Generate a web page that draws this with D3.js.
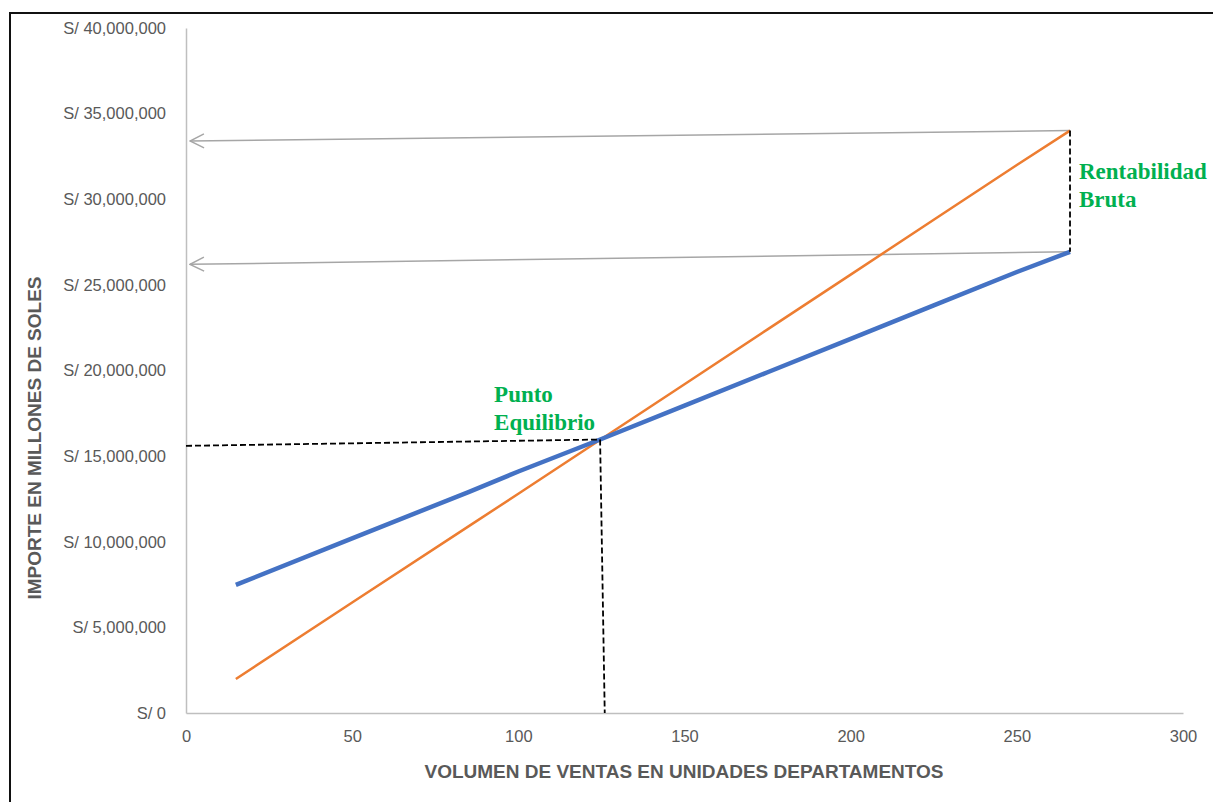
<!DOCTYPE html>
<html>
<head>
<meta charset="utf-8">
<script src="https://cdn.jsdelivr.net/npm/d3@7"></script>
<style>
  body { margin: 0; background: #fff; }
  .tick text { font-family: "Liberation Sans", Arial, sans-serif; fill: #595959; }
</style>
</head>
<body>
<div class="container"></div>
<script>
// chart data
var unidades   = [15, 50, 85, 100, 125, 150, 175, 200, 225, 250, 266];
var costoTotal = [7480000, 10200000, 12900000, 14100000, 16000000, 17950000, 19900000, 21850000, 23800000, 25750000, 26930000];
var ingresos   = [1990000, 6450000, 10900000, 12800000, 16000000, 19200000, 22400000, 25600000, 28800000, 32000000, 34010000];

var xTicks = [0, 50, 100, 150, 200, 250, 300];
var yTicks = [0, 5000000, 10000000, 15000000, 20000000, 25000000, 30000000, 35000000, 40000000];

// annotation anchors, in data units
var equilibrio = [124.6, 15970000];
var flechas = [ // [from x, from y, to x, to y]
  [266, 34010000, 0, 33400000],
  [266, 26930000, 0, 26200000]
];
var guias = [ // dashed black guides
  [0, 15600000, 124.6, 15970000],
  [124.6, 15970000, 126, 0],
  [266, 34010000, 266, 26930000]
];

var margin = {top: 28, right: 30, bottom: 89, left: 186},
    width = 1213 - margin.left - margin.right,
    height = 802 - margin.top - margin.bottom;

var x_scale = d3.scaleLinear().domain([0, 300]).range([0, 997]);
var y_scale = d3.scaleLinear().domain([0, 40000000]).range([height, 0]);

var svg = d3.select("div.container").append("svg")
    .attr("width", 1213)
    .attr("height", 802);

// frame
svg.append("rect")
    .attr("x", 10).attr("y", 13)
    .attr("width", 1240).attr("height", 820)
    .attr("fill", "none")
    .attr("stroke", "#111")
    .attr("stroke-width", 2);

var defs = svg.append("defs");
defs.append("marker")
    .attr("id", "chevron")
    .attr("viewBox", "0 0 16 16")
    .attr("refX", 15).attr("refY", 8)
    .attr("markerWidth", 16).attr("markerHeight", 16)
    .attr("markerUnits", "userSpaceOnUse")
    .attr("orient", "auto")
    .append("path")
    .attr("d", "M1,1 L15,8 L1,15")
    .attr("fill", "none")
    .attr("stroke", "#a6a6a6")
    .attr("stroke-width", 1.5);

var g = svg.append("g")
    .attr("transform", "translate(" + margin.left + "," + margin.top + ")");

var fmt = function (d) { return d === 0 ? "S/ 0" : "S/ " + d3.format(",")(d); };

// Y axis
var yAxis = g.append("g")
    .call(d3.axisLeft(y_scale).tickValues(yTicks).tickFormat(fmt).tickSize(0).tickPadding(20));
yAxis.select(".domain").attr("stroke", "#bfbfbf").attr("stroke-width", 1.5);
yAxis.selectAll("text").style("font-size", "16.5px");

// X axis
var xAxis = g.append("g")
    .attr("transform", "translate(0," + height + ")")
    .call(d3.axisBottom(x_scale).tickValues(xTicks).tickSize(0).tickPadding(17));
xAxis.select(".domain").attr("stroke", "#bfbfbf").attr("stroke-width", 1.5);
xAxis.selectAll("text").style("font-size", "16.5px");

// axis titles
svg.append("text")
    .attr("x", 684).attr("y", 778)
    .attr("text-anchor", "middle")
    .style("font-family", "Liberation Sans, Arial, sans-serif")
    .style("font-weight", "bold")
    .style("font-size", "19px")
    .attr("fill", "#595959")
    .text("VOLUMEN DE VENTAS EN UNIDADES DEPARTAMENTOS");

svg.append("text")
    .attr("transform", "translate(41,438) rotate(-90)")
    .attr("text-anchor", "middle")
    .style("font-family", "Liberation Sans, Arial, sans-serif")
    .style("font-weight", "bold")
    .style("font-size", "19px")
    .attr("fill", "#595959")
    .text("IMPORTE EN MILLONES DE SOLES");

// gray arrows back to the y axis
g.selectAll(".flecha")
    .data(flechas)
    .enter().append("line")
    .attr("class", "flecha")
    .attr("x1", function(d) { return x_scale(d[0]); })
    .attr("y1", function(d) { return y_scale(d[1]); })
    .attr("x2", function(d) { return x_scale(d[2]) + 4; })
    .attr("y2", function(d) { return y_scale(d[3]); })
    .attr("stroke", "#a6a6a6")
    .attr("stroke-width", 1.5)
    .attr("marker-end", "url(#chevron)");

var line = d3.line()
    .x(function(d) { return x_scale(d[0]); })
    .y(function(d) { return y_scale(d[1]); });

// ingresos (orange)
g.append("path")
    .datum(d3.zip(unidades, ingresos))
    .attr("fill", "none")
    .attr("stroke", "#ED7D31")
    .attr("stroke-width", 2.5)
    .attr("stroke-linejoin", "round")
    .attr("d", line);

// costo total (blue)
g.append("path")
    .datum(d3.zip(unidades, costoTotal))
    .attr("fill", "none")
    .attr("stroke", "#4472C4")
    .attr("stroke-width", 4.5)
    .attr("stroke-linejoin", "round")
    .attr("d", line);

// dashed guides
g.selectAll(".guia")
    .data(guias)
    .enter().append("line")
    .attr("class", "guia")
    .attr("x1", function(d) { return x_scale(d[0]); })
    .attr("y1", function(d) { return y_scale(d[1]); })
    .attr("x2", function(d) { return x_scale(d[2]); })
    .attr("y2", function(d) { return y_scale(d[3]); })
    .attr("stroke", "#000")
    .attr("stroke-width", 1.8)
    .style("stroke-dasharray", "6,3");

// green labels
var etiqueta = function (lines, xpx, ypx) {
  var t = svg.append("text")
      .attr("x", xpx).attr("y", ypx)
      .style("font-family", "Liberation Serif, Times New Roman, serif")
      .style("font-weight", "bold")
      .style("font-size", "23px")
      .attr("fill", "#00B050");
  lines.forEach(function (s, i) {
    t.append("tspan").attr("x", xpx).attr("dy", i === 0 ? 0 : 28).text(s);
  });
};
etiqueta(["Punto", "Equilibrio"], margin.left + x_scale(equilibrio[0]) - 106, margin.top + y_scale(equilibrio[1]) - 38);
etiqueta(["Rentabilidad", "Bruta"], margin.left + x_scale(266) + 9, 179);
</script>
</body>
</html>
